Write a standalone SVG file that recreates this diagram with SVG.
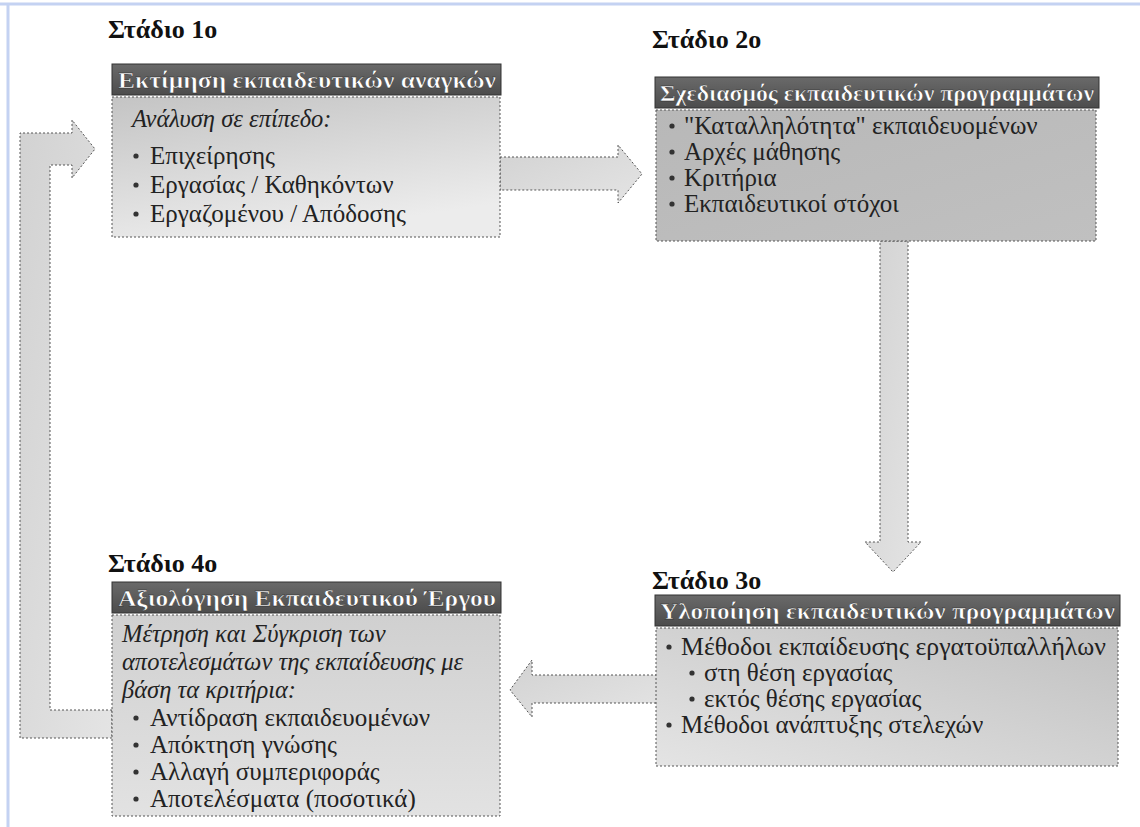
<svg xmlns="http://www.w3.org/2000/svg" width="1140" height="827" viewBox="0 0 1140 827">
<style>
.stage{font-family:"Liberation Serif",serif;font-weight:bold;font-size:26px;fill:#111}
.hd{font-family:"Liberation Serif",serif;font-weight:bold;font-size:23px;fill:#fff;stroke:#222;stroke-width:0.4}
.bt{font-family:"Liberation Serif",serif;font-size:25px;fill:#222}
.it{font-style:italic;font-size:24.5px}
.hdr{fill:url(#hg);stroke:#333;stroke-width:1}
.body{stroke:#555;stroke-width:1;stroke-dasharray:2 2}
.arr{fill:url(#ag);stroke:#555;stroke-width:1;stroke-dasharray:2 2}
.dot{fill:#333}
</style>
<defs>
<linearGradient id="hg" x1="0" y1="0" x2="0" y2="1"><stop offset="0" stop-color="#6a6a6a"/><stop offset="1" stop-color="#4c4c4c"/></linearGradient>
<linearGradient id="b1" x1="0" y1="0" x2="0.4" y2="1"><stop offset="0" stop-color="#c4c4c4"/><stop offset="1" stop-color="#ececec"/></linearGradient>
<linearGradient id="b2" x1="0" y1="0" x2="1" y2="1"><stop offset="0" stop-color="#b8b8b8"/><stop offset="1" stop-color="#c0c0c0"/></linearGradient>
<linearGradient id="b3" x1="1" y1="0" x2="0" y2="1"><stop offset="0" stop-color="#c0c0c0"/><stop offset="1" stop-color="#e4e4e4"/></linearGradient>
<linearGradient id="b4" x1="0" y1="0" x2="0" y2="1"><stop offset="0" stop-color="#d0d0d0"/><stop offset="1" stop-color="#e2e2e2"/></linearGradient>
<linearGradient id="ag" x1="0" y1="0" x2="1" y2="1"><stop offset="0" stop-color="#d2d2d2"/><stop offset="1" stop-color="#e4e4e4"/></linearGradient>
</defs>
<rect x="0" y="0" width="1140" height="827" fill="#fff"/>
<line x1="0" y1="4" x2="1140" y2="4" stroke="#c4d2f2" stroke-width="3"/>
<line x1="8" y1="4" x2="8" y2="827" stroke="#c4d2f2" stroke-width="3"/>

<g id="connectors">
<polygon class="arr" points="500,157 618,157 618,145 642,174 618,203 618,190 500,190"/>
<polygon class="arr" points="880,241 908,241 908,542 921,542 893,572 865,542 880,542"/>
<polygon class="arr" points="657,675 532,675 532,660 510,690 532,717 532,703 657,703"/>
<polygon class="arr" points="112,710 50,710 50,165 72,165 72,178 95,149 72,120 72,133 20,133 20,738 112,738"/>
</g>

<g id="stage1">
<text class="stage" x="108" y="38">Στάδιο 1ο</text>
<rect class="hdr" x="112" y="64" width="389" height="31"/>
<text class="hd" x="118" y="88" textLength="378" lengthAdjust="spacingAndGlyphs">Εκτίμηση εκπαιδευτικών αναγκών</text>
<rect class="body" x="112" y="97" width="388" height="140" fill="url(#b1)"/>
<text class="bt it" x="132" y="127">Ανάλυση σε επίπεδο:</text>
<circle class="dot" cx="136" cy="156" r="2.6"/><text class="bt" x="150" y="164">Επιχείρησης</text>
<circle class="dot" cx="136" cy="185" r="2.6"/><text class="bt" x="150" y="193">Εργασίας / Καθηκόντων</text>
<circle class="dot" cx="136" cy="214" r="2.6"/><text class="bt" x="150" y="222">Εργαζομένου / Απόδοσης</text>
</g>

<g id="stage2">
<text class="stage" x="652" y="48">Στάδιο 2ο</text>
<rect class="hdr" x="655" y="77" width="444" height="31"/>
<text class="hd" x="660" y="101" textLength="434" lengthAdjust="spacingAndGlyphs">Σχεδιασμός εκπαιδευτικών προγραμμάτων</text>
<rect class="body" x="656" y="110" width="440" height="131" fill="url(#b2)"/>
<circle class="dot" cx="672" cy="126" r="2.6"/><text class="bt" x="684" y="134">"Καταλληλότητα" εκπαιδευομένων</text>
<circle class="dot" cx="672" cy="152" r="2.6"/><text class="bt" x="684" y="160">Αρχές μάθησης</text>
<circle class="dot" cx="672" cy="178" r="2.6"/><text class="bt" x="684" y="186">Κριτήρια</text>
<circle class="dot" cx="672" cy="204" r="2.6"/><text class="bt" x="684" y="212">Εκπαιδευτικοί στόχοι</text>
</g>

<g id="stage3">
<text class="stage" x="652" y="589">Στάδιο 3ο</text>
<rect class="hdr" x="655" y="595" width="465" height="31"/>
<text class="hd" x="660" y="619" textLength="455" lengthAdjust="spacingAndGlyphs">Υλοποίηση εκπαιδευτικών προγραμμάτων</text>
<rect class="body" x="656" y="628" width="462" height="138" fill="url(#b3)"/>
<circle class="dot" cx="669" cy="647" r="2.6"/><text class="bt" x="681" y="655" textLength="425" lengthAdjust="spacingAndGlyphs">Μέθοδοι εκπαίδευσης εργατοϋπαλλήλων</text>
<circle class="dot" cx="692" cy="673" r="2.6"/><text class="bt" x="704" y="681">στη θέση εργασίας</text>
<circle class="dot" cx="692" cy="699" r="2.6"/><text class="bt" x="704" y="707">εκτός θέσης εργασίας</text>
<circle class="dot" cx="669" cy="725" r="2.6"/><text class="bt" x="681" y="733">Μέθοδοι ανάπτυξης στελεχών</text>
</g>

<g id="stage4">
<text class="stage" x="108" y="572">Στάδιο 4ο</text>
<rect class="hdr" x="112" y="582" width="389" height="31"/>
<text class="hd" x="118" y="606" textLength="378" lengthAdjust="spacingAndGlyphs">Αξιολόγηση Εκπαιδευτικού Έργου</text>
<rect class="body" x="112" y="615" width="388" height="201" fill="url(#b4)"/>
<text class="bt it" x="122" y="642">Μέτρηση και Σύγκριση των</text>
<text class="bt it" x="122" y="670">αποτελεσμάτων της εκπαίδευσης με</text>
<text class="bt it" x="122" y="698">βάση τα κριτήρια:</text>
<circle class="dot" cx="136" cy="718" r="2.6"/><text class="bt" x="150" y="726">Αντίδραση εκπαιδευομένων</text>
<circle class="dot" cx="136" cy="745" r="2.6"/><text class="bt" x="150" y="753">Απόκτηση γνώσης</text>
<circle class="dot" cx="136" cy="772" r="2.6"/><text class="bt" x="150" y="780">Αλλαγή συμπεριφοράς</text>
<circle class="dot" cx="136" cy="799" r="2.6"/><text class="bt" x="150" y="807">Αποτελέσματα (ποσοτικά)</text>
</g>
</svg>
